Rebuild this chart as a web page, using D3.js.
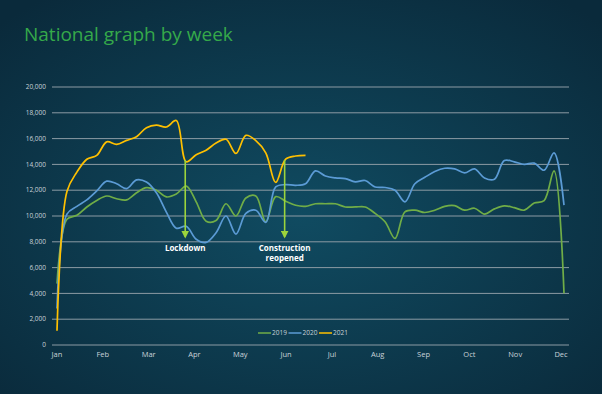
<!DOCTYPE html>
<html>
<head>
<meta charset="utf-8">
<script src="https://cdn.jsdelivr.net/npm/d3@7"></script>
<style>
  html, body { margin: 0; padding: 0; background: #0b2c3e; }
  svg { display: block; font-family: "Open Sans", sans-serif; }
</style>
</head>
<body>
<svg id="chart" width="602" height="394"></svg>
<script>
// weekly totals
var v2019 = [4760, 9750, 10050, 10700, 11210, 11550, 11340, 11250, 11800, 12200,
  12000, 11480, 11700, 12320, 11100, 9600, 9650, 10950, 10000, 11400,
  11550, 9550, 11500, 11150, 10830, 10750, 10950, 10950, 10950, 10700,
  10700, 10700, 10200, 9550, 8260, 10320, 10450, 10270, 10450, 10750,
  10800, 10450, 10600, 10150, 10550, 10790, 10650, 10450, 11000, 11200,
  13500, 4000];
var v2020 = [2830, 10150, 10750, 11250, 11950, 12700, 12500, 12120, 12800, 12630,
  11800, 10300, 9050, 9200, 8200, 7950, 8700, 10000, 8600, 10200,
  10450, 9500, 12250, 12430, 12380, 12500, 13500, 13100, 12950, 12900,
  12650, 12750, 12250, 12210, 12000, 11100, 12500, 13000, 13450, 13700,
  13650, 13340, 13650, 12950, 12850, 14300, 14200, 14000, 14100, 13550,
  14900, 10840];
var v2021 = [1100, 11900, 13400, 14400, 14700, 15750, 15550, 15860, 16150, 16850,
  17050, 16900, 17400, 14200, 14750, 15100, 15650, 15950, 14850, 16250,
  15850, 14900, 12600, 14400, 14650, 14700];

var months = ["Jan", "Feb", "Mar", "Apr", "May", "Jun", "Jul", "Aug", "Sep", "Oct", "Nov", "Dec"];
var yTicks = d3.range(0, 20001, 2000);
var seriesNames = ["2019", "2020", "2021"];
var seriesColors = ["#70ad47", "#5b9bd5", "#ffc000"];
// annotations: week index, label lines
var notes = [
  { week: 13, lines: ["Lockdown"] },
  { week: 23, lines: ["Construction", "reopened"] }
];

var svg = d3.select("#chart");

var defs = svg.append("defs");
var bg = defs.append("radialGradient").attr("id", "bg")
  .attr("cx", "50%").attr("cy", "55%").attr("r", "70%");
bg.append("stop").attr("offset", "0%").attr("stop-color", "#104b61");
bg.append("stop").attr("offset", "100%").attr("stop-color", "#0a2a3b");

var arrow = defs.append("marker").attr("id", "arr")
  .attr("viewBox", "0 0 10 10").attr("refX", 8).attr("refY", 5)
  .attr("markerWidth", 5).attr("markerHeight", 5).attr("orient", "auto");
arrow.append("path").attr("d", "M0,0L10,5L0,10Z").attr("fill", "#9cd43c");

svg.append("rect").attr("width", 602).attr("height", 394).attr("fill", "url(#bg)");

svg.append("text")
  .attr("x", 24).attr("y", 41)
  .attr("fill", "#35a94a")
  .attr("font-size", 19)
  .text("National graph by week");

var x = d3.scaleLinear().domain([0, 51]).range([57, 564]);
var xm = d3.scalePoint().domain(months).range([57, 561]);
var y = d3.scaleLinear().domain([0, 20000]).range([345, 87]);

// grid
svg.append("g").selectAll("line").data(yTicks).enter().append("line")
  .attr("x1", 52).attr("x2", 569)
  .attr("y1", function(d) { return y(d); })
  .attr("y2", function(d) { return y(d); })
  .attr("stroke", "#8c9ba4").attr("stroke-width", 1);

svg.append("g").selectAll("text").data(yTicks).enter().append("text")
  .attr("x", 46)
  .attr("y", function(d) { return y(d); })
  .attr("dy", "0.35em")
  .attr("text-anchor", "end")
  .attr("font-size", 6.5)
  .attr("fill", "#c9d2d8")
  .text(d3.format(","));

svg.append("g").selectAll("text").data(months).enter().append("text")
  .attr("x", function(d) { return xm(d); })
  .attr("y", 357)
  .attr("text-anchor", "middle")
  .attr("font-size", 7.5)
  .attr("fill", "#c9d2d8")
  .text(function(d) { return d; });

var line = d3.line()
  .x(function(d, i) { return x(i); })
  .y(function(d) { return y(d); })
  .curve(d3.curveCatmullRom.alpha(0.5));

[v2019, v2020, v2021].forEach(function(vals, k) {
  svg.append("path")
    .attr("d", line(vals))
    .attr("fill", "none")
    .attr("stroke", seriesColors[k])
    .attr("stroke-width", 1.7);
});

// annotations
notes.forEach(function(n) {
  var ax = x(n.week) - 1;
  svg.append("line")
    .attr("x1", ax).attr("x2", ax)
    .attr("y1", 160).attr("y2", 237)
    .attr("stroke", "#9cd43c").attr("stroke-width", 1.6)
    .attr("marker-end", "url(#arr)");
  n.lines.forEach(function(t, j) {
    svg.append("text")
      .attr("x", ax).attr("y", 251 + j * 10)
      .attr("text-anchor", "middle")
      .attr("font-size", 8)
      .attr("font-weight", "bold")
      .attr("fill", "#ffffff")
      .text(t);
  });
});

// legend
var lg = svg.append("g").attr("transform", "translate(258,333)");
seriesNames.forEach(function(s, k) {
  var g = lg.append("g").attr("transform", "translate(" + (k * 30.5) + ",0)");
  g.append("line").attr("x1", 0).attr("x2", 13).attr("y1", 0).attr("y2", 0)
    .attr("stroke", seriesColors[k]).attr("stroke-width", 1.5);
  g.append("text").attr("x", 14).attr("y", 0).attr("dy", "0.35em")
    .attr("font-size", 6.5).attr("fill", "#c9d2d8").text(s);
});
</script>
</body>
</html>
